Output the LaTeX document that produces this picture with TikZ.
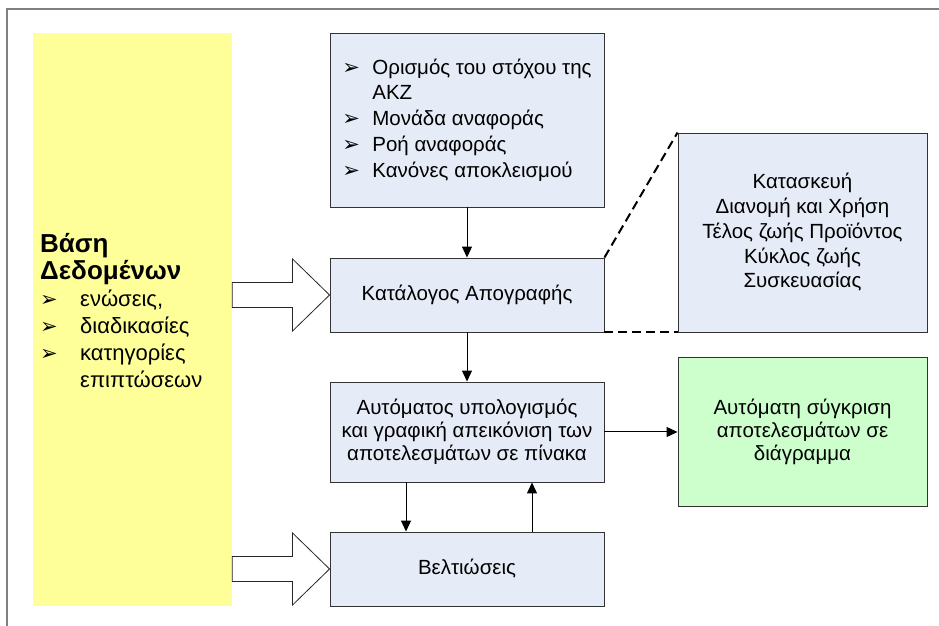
\documentclass[tikz,border=0pt]{standalone}
\usepackage{fontspec}
\setmainfont{Liberation Sans}
\newfontfamily\symfont{DejaVu Sans}
\usetikzlibrary{positioning}
\usetikzlibrary{calc}
\usetikzlibrary{arrows.meta}

\definecolor{boxblue}{HTML}{E6ECF7}
\definecolor{dbyellow}{HTML}{FFFF99}
\definecolor{cmpgreen}{HTML}{CCFFCC}
\definecolor{framegray}{HTML}{808080}

\newcommand{\bul}[1][30pt]{\makebox[#1][l]{\symfont\fontsize{21}{21}\selectfont ➢}}
\newcommand{\nobul}[1][30pt]{\makebox[#1][l]{}}

\tikzset{
  stepbox/.style={draw=black!80, line width=0.9pt, fill=boxblue, minimum width=274pt,
    inner sep=0pt, align=center, font=\fontsize{20.5}{23}\selectfont},
  flow/.style={line width=1pt, -{Triangle[length=11pt,width=10pt]}},
  bigarrow/.style={draw=black!85, line width=0.8pt, fill=white},
  zoomline/.style={line width=2pt, dash pattern=on 9pt off 5pt}
}

\begin{document}
\begin{tikzpicture}[x=1pt,y=1pt]
\useasboundingbox (0,0) rectangle (939,626);
\draw[framegray, line width=2pt] (7,0) -- (7,617) -- (939,617);

\node[fill=dbyellow, minimum width=199pt, minimum height=573pt, inner sep=0pt](db) at (132.5,306.5){};
\node[anchor=west, align=left, inner sep=0pt, font=\fontsize{22}{27}\selectfont](dbtext) at (40,315){%
  \textbf{\fontsize{26}{27}\selectfont Βάση}\\
  \textbf{\fontsize{26}{27}\selectfont Δεδομένων}\\
  \bul[40pt]ενώσεις,\\
  \bul[40pt]διαδικασίες\\
  \bul[40pt]κατηγορίες\\
  \nobul[40pt]επιπτώσεων};

\node[stepbox, minimum height=174pt, align=left, font=\fontsize{20.5}{25.75}\selectfont](goals) at (467,506){%
  \bul Ορισμός του στόχου της\\
  \nobul AKZ\\
  \bul Μονάδα αναφοράς\\
  \bul Ροή αναφοράς\\
  \bul Κανόνες αποκλεισμού};
\node[stepbox, minimum height=74pt](cat) at (467,331){Κατάλογος Απογραφής};
\node[stepbox, minimum width=249pt, minimum height=199pt, font=\fontsize{20.5}{24.75}\selectfont](cycle) at (802.5,393.5){%
  Κατασκευή\\
  Διανομή και Χρήση\\
  Τέλος ζωής Προϊόντος\\
  Κύκλος ζωής\\
  Συσκευασίας};
\node[stepbox, minimum height=100pt](calc) at (467,194){%
  Αυτόματος υπολογισμός\\
  και γραφική απεικόνιση των\\
  αποτελεσμάτων σε πίνακα};
\node[stepbox, fill=cmpgreen, minimum width=249pt, minimum height=149pt](cmp) at (802.5,194){%
  Αυτόματη σύγκριση\\
  αποτελεσμάτων σε\\
  διάγραμμα};
\node[stepbox, minimum height=74pt](impr) at (467,57){Βελτιώσεις};

% block arrows out of the data base
\draw[bigarrow] ($(db.east |- cat.west)+(0,12.5)$) -- ($(cat.west)+(-37,12.5)$) -- ($(cat.west)+(-37,36)$)
  -- (cat.west) -- ($(cat.west)+(-37,-36)$) -- ($(cat.west)+(-37,-12.5)$) -- ($(db.east |- cat.west)+(0,-12.5)$) -- cycle;
\draw[bigarrow] ($(db.east |- impr.west)+(0,12.5)$) -- ($(impr.west)+(-37,12.5)$) -- ($(impr.west)+(-37,36)$)
  -- (impr.west) -- ($(impr.west)+(-37,-36)$) -- ($(impr.west)+(-37,-12.5)$) -- ($(db.east |- impr.west)+(0,-12.5)$) -- cycle;

\draw[zoomline] (cat.north east) -- (cycle.north west);
\draw[zoomline] (cat.south east) -- (cycle.south west);

\path
(goals) edge[flow] (cat)
(cat) edge[flow] (calc)
(calc) edge[flow] (cmp)
([xshift=-61pt]calc.south) edge[flow] ([xshift=-61pt]impr.north)
([xshift=65pt]impr.north) edge[flow] ([xshift=65pt]calc.south);
\end{tikzpicture}
\end{document}
